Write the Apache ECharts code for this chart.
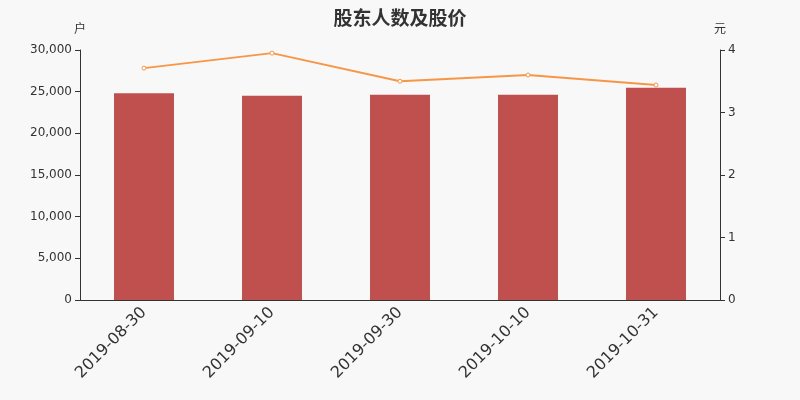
<!DOCTYPE html>
<html><head><meta charset="utf-8">
<script src="https://cdn.jsdelivr.net/npm/echarts@6/dist/echarts.min.js"></script>
<style>html,body{margin:0;padding:0;background:#f8f8f8}#c{width:800px;height:400px}</style>
</head><body><div id="c"></div>
<script>
const categories = ['2019-08-30','2019-09-10','2019-09-30','2019-10-10','2019-10-31'];
const holders = [24800, 24500, 24620, 24620, 25460];
const prices = [3.71, 3.95, 3.50, 3.60, 3.44];

const chart = echarts.init(document.getElementById('c'));
const font = 'DejaVu Sans';
chart.setOption({
  backgroundColor: '#f8f8f8',
  animation: false,
  title: { text: '股东人数及股价', left: 'center', top: 3,
    textStyle: { fontSize: 19, fontWeight: 'bold', color: '#333', fontFamily: 'Noto Sans CJK SC' } },
  grid: { left: 80, right: 80, top: 50, bottom: 100 },
  xAxis: { type: 'category', data: categories,
    axisLine: { lineStyle: { color: '#333' } },
    axisTick: { alignWithLabel: false, lineStyle: { color: '#333' } },
    axisLabel: { rotate: 45, fontSize: 16, color: '#333', fontFamily: font, margin: 10 } },
  yAxis: [
    { type: 'value', name: '户', min: 0, max: 30000, interval: 5000,
      nameTextStyle: { color: '#333', fontSize: 12, fontFamily: 'Noto Sans CJK SC', padding: [0, 0, 0, 0] },
      nameGap: 16,
      axisLine: { show: true, lineStyle: { color: '#333' } },
      axisTick: { show: true, lineStyle: { color: '#333' } },
      splitLine: { show: false },
      axisLabel: { color: '#333', fontSize: 12, fontFamily: font,
        formatter: v => v.toLocaleString('en-US') } },
    { type: 'value', name: '元', min: 0, max: 4, interval: 1,
      nameTextStyle: { color: '#333', fontSize: 12, fontFamily: 'Noto Sans CJK SC', padding: [0, 0, 0, 0] },
      nameGap: 16,
      axisLine: { show: true, lineStyle: { color: '#333' } },
      axisTick: { show: true, lineStyle: { color: '#333' } },
      splitLine: { show: false },
      axisLabel: { color: '#333', fontSize: 12, fontFamily: font } }
  ],
  series: [
    { type: 'bar', data: holders, barWidth: 60, itemStyle: { color: '#c0504d' } },
    { type: 'line', yAxisIndex: 1, data: prices, symbol: 'circle', symbolSize: 4,
      lineStyle: { color: '#f79646', width: 2 },
      itemStyle: { color: '#fff', borderColor: '#f79646', borderWidth: 1 } }
  ]
});
</script></body></html>
